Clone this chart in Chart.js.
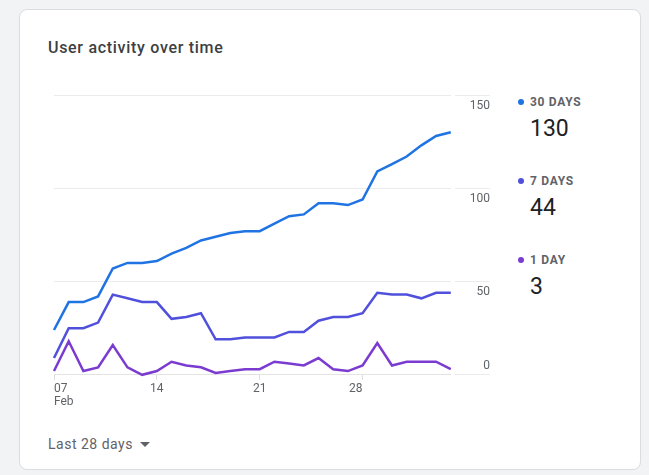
<!DOCTYPE html>
<html>
<head>
<meta charset="utf-8">
<title>User activity over time</title>
<script src="https://cdn.jsdelivr.net/npm/chart.js@4/dist/chart.umd.min.js"></script>
<style>
  html, body { margin: 0; padding: 0; }
  body {
    width: 649px; height: 475px; overflow: hidden; position: relative;
    background: #f1f3f4;
    font-family: Roboto, "Noto Sans", sans-serif;
  }
  .card {
    position: absolute; left: 19px; top: 9px; width: 622px; height: 461px;
    background: #ffffff; border: 1px solid #dadce0; border-radius: 8px;
    box-sizing: border-box;
  }
  .title {
    position: absolute; left: 48px; top: 38px;
    font-size: 16px; font-weight: 500; color: #3c4043; line-height: 20px;
    letter-spacing: 0.7px;
  }
  .chartBox { position: absolute; left: 51px; top: 84px; width: 439px; height: 327px; }
  .legendItem { position: absolute; left: 518px; }
  .legendName {
    font-size: 12px; font-weight: 700; letter-spacing: 0.7px; color: #5f6368;
    line-height: 14px; white-space: nowrap;
  }
  .legendDot {
    display: inline-block; width: 6px; height: 6px; border-radius: 50%;
    margin-right: 6px; vertical-align: 1px;
  }
  .legendValue {
    font-size: 23px; color: #202124; line-height: 26px; margin-left: 12px; margin-top: 7px;
  }
  .range {
    position: absolute; left: 48px; top: 435px;
    font-size: 14px; color: #5f6368; line-height: 18px; letter-spacing: 0.5px;
  }
  .caret {
    display: inline-block; width: 0; height: 0; margin-left: 7px; vertical-align: 2px;
    border-left: 5px solid transparent; border-right: 5px solid transparent;
    border-top: 5px solid #5f6368;
  }
</style>
</head>
<body>
<div class="card"></div>
<div class="title">User activity over time</div>
<div class="chartBox"><canvas id="activityChart"></canvas></div>
<div id="legend"></div>
<div class="range">Last 28 days<span class="caret"></span></div>

<script>
// days shown on the x axis
var dayLabels = ["07 Feb", "08 Feb", "09 Feb", "10 Feb", "11 Feb", "12 Feb", "13 Feb",
                 "14 Feb", "15 Feb", "16 Feb", "17 Feb", "18 Feb", "19 Feb", "20 Feb",
                 "21 Feb", "22 Feb", "23 Feb", "24 Feb", "25 Feb", "26 Feb", "27 Feb",
                 "28 Feb", "01 Mar", "02 Mar", "03 Mar", "04 Mar", "05 Mar", "06 Mar"];

// active users per window
var users30Days = [24, 39, 39, 42, 57, 60, 60, 61, 65, 68, 72, 74, 76, 77,
                   77, 81, 85, 86, 92, 92, 91, 94, 109, 113, 117, 123, 128, 130];
var users7Days  = [9, 25, 25, 28, 43, 41, 39, 39, 30, 31, 33, 19, 19, 20,
                   20, 20, 23, 23, 29, 31, 31, 33, 44, 43, 43, 41, 44, 44];
var users1Day   = [2, 18, 2, 4, 16, 4, 0, 2, 7, 5, 4, 1, 2, 3,
                   3, 7, 6, 5, 9, 3, 2, 5, 17, 5, 7, 7, 7, 3];

var seriesNames = ["30 DAYS", "7 DAYS", "1 DAY"];
var seriesColors = ["#1f73e2", "#5050dc", "#7b3bd0"];
var seriesValues = [users30Days, users7Days, users1Day];

var yTicks = [0, 50, 100, 150];

Chart.defaults.font.family = "Roboto, 'Noto Sans', sans-serif";

function toPoints(values)
{
  return values.map(function(v, i) {
    return { x: i, y: v };
  });
}

// legend on the right with the latest value of each series
function buildLegend(holder)
{
  for (var k = 0; k < seriesNames.length; k++)
  {
    var values = seriesValues[k];
    var item = document.createElement("div");
    item.className = "legendItem";
    item.style.top = (95 + k * 79) + "px";
    item.innerHTML =
      '<div class="legendName"><span class="legendDot" style="background:' + seriesColors[k] + '"></span>' +
      seriesNames[k] + '</div>' +
      '<div class="legendValue">' + values[values.length - 1] + '</div>';
    holder.appendChild(item);
  }
}

buildLegend(document.getElementById("legend"));

var datasets = [];
for (var k = 0; k < seriesNames.length; k++)
{
  datasets.push({
    label: seriesNames[k],
    data: toPoints(seriesValues[k]),
    borderColor: seriesColors[k],
    backgroundColor: seriesColors[k],
    borderWidth: 2.5,
    pointRadius: 0,
    tension: 0,
    fill: false,
    clip: false
  });
}

var chart = new Chart(document.getElementById("activityChart"), {
  type: "line",
  data: { datasets: datasets },
  options: {
    responsive: true,
    maintainAspectRatio: false,
    animation: false,
    layout: { padding: 0 },
    plugins: {
      legend: { display: false },
      tooltip: { enabled: false }
    },
    scales: {
      x: {
        type: "linear",
        min: 0,
        max: dayLabels.length - 1,
        grid: { drawOnChartArea: false, drawTicks: true, tickLength: 5, color: "#dadce0" },
        border: { display: true, color: "#e3e3e3" },
        ticks: {
          stepSize: 7,
          includeBounds: false,
          autoSkip: false,
          maxRotation: 0,
          align: "inner",
          padding: 3,
          color: "#5f6368",
          font: { size: 12, lineHeight: 1.05 },
          callback: function(value) {
            var parts = dayLabels[value].split(" ");
            // only the first tick carries the month
            return value === 0 ? parts : parts[0];
          }
        }
      },
      y: {
        position: "right",
        min: yTicks[0],
        max: yTicks[yTicks.length - 1],
        border: { display: false },
        grid: { color: "#ebebeb", drawTicks: true, tickLength: 39, tickBorderDash: [0, 4, 100] },
        ticks: {
          stepSize: yTicks[1] - yTicks[0],
          crossAlign: "far",
          padding: -10,
          color: "#5f6368",
          font: function(ctx) {
            return { size: 12, lineHeight: ctx.tick && ctx.tick.value === 0 ? 1.5 : 1.75 };
          },
          // labels sit under their line, the zero label above it
          callback: function(value) {
            return value === 0 ? [String(value), ""] : ["", String(value)];
          }
        }
      }
    }
  }
});
</script>
</body>
</html>
